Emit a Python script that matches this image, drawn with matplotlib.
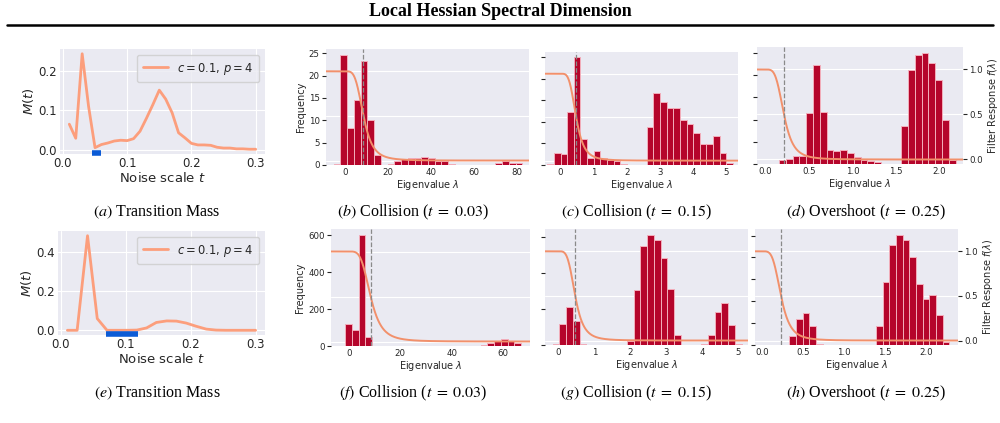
import numpy as np
import matplotlib
matplotlib.use('Agg')
import matplotlib.pyplot as plt
import matplotlib.transforms as mtransforms
from matplotlib.lines import Line2D
from matplotlib.ticker import MultipleLocator

plt.style.use('seaborn-v0_8-darkgrid')
plt.rcParams['font.family'] = ['DejaVu Sans']

W, H = 1000, 423

# transition mass M(t), top and bottom rows
t_top = [0.01, 0.02, 0.03, 0.04, 0.05, 0.06, 0.07, 0.08, 0.09, 0.10,
         0.11, 0.12, 0.13, 0.14, 0.15, 0.16, 0.17, 0.18, 0.19, 0.20,
         0.21, 0.22, 0.23, 0.24, 0.25, 0.26, 0.27, 0.28, 0.29, 0.30]
mass_top = [0.065, 0.029, 0.245, 0.11, 0.005, 0.013, 0.017, 0.022, 0.024, 0.023,
            0.028, 0.047, 0.08, 0.115, 0.152, 0.129, 0.094, 0.043, 0.03, 0.016,
            0.012, 0.012, 0.011, 0.006, 0.004, 0.004, 0.002, 0.002, 0.001, 0.001]
window_top = [0.045, 0.059]

t_bottom = [0.010, 0.025, 0.041, 0.056, 0.071, 0.086, 0.102, 0.117, 0.132, 0.147,
            0.163, 0.178, 0.193, 0.208, 0.224, 0.239, 0.254, 0.269, 0.285, 0.300]
mass_bottom = [0.0, 0.0, 0.485, 0.06, 0.0, 0.0, 0.0, 0.001, 0.012, 0.04,
               0.048, 0.047, 0.037, 0.021, 0.006, 0.001, 0.0, 0.0, 0.0, 0.0]
window_bottom = [0.070, 0.119]

filter_p = 4

# eigenvalue histograms: first bin edge, bin width, counts, filter cutoff
hist_b_start, hist_b_width, cut_b = -5.23, 3.125, 8.6
hist_b = [0.3, 24.7, 8.2, 14.6, 23.2, 10.0, 2.3, 0, 0.2, 0.8, 1.3, 1.6, 1.5, 1.8,
          1.6, 1.0, 1.0, 0.3, 0, 0, 0.1, 0, 0, 0, 0.4, 0.9, 0.5, 0.4]

hist_c_start, hist_c_width, cut_c = -0.4, 0.2, 0.47
hist_c = [0.5, 5.4, 5.1, 24.8, 50.0, 12.2, 3.2, 6.3, 3.2, 2.2, 1.7, 0.3, 0, 0,
          0, 17.7, 33.5, 29.2, 26.6, 26.6, 21.1, 19.2, 14.8, 9.8, 9.8, 13.7, 5.8, 0.9]

hist_d_start, hist_d_width, cut_d = 0.157, 0.078, 0.214
hist_d = [2.0, 2.4, 3.5, 3.8, 23.2, 44.4, 23.6, 6.5, 5.8, 6.1, 5.0, 3.0, 1.7,
          1.2, 0.8, 0, 0, 0, 17.1, 42.4, 48.9, 50.2, 45.3, 37.7, 19.7, 1.7]

hist_f_start, hist_f_width, cut_f = -1.4, 2.63, 8.5
hist_f = [118, 89, 604, 47, 0, 0, 0, 0, 0, 0, 0, 0, 0, 0, 0, 0, 0, 0, 0, 0,
          3, 15, 29, 40, 29, 15]

hist_g_start, hist_g_width, cut_g = -0.16, 0.1875, 0.47
hist_g = [2, 58, 107, 67, 2, 0, 0, 0, 0, 0, 0, 11, 154, 276, 308, 294, 243, 156,
          28, 0, 0, 0, 2, 28, 92, 117, 56, 2]

hist_h_start, hist_h_width, cut_h = 0.33, 0.0815, 0.228
hist_h = [4.2, 11.8, 14.6, 8.9, 0.3, 0, 0, 0, 0, 0, 0, 0, 0, 8.8, 28.9, 45.5,
          50.5, 48.2, 40.0, 28.0, 21.2, 22.8, 13.8, 1.5]

LINE = '#fc9e7c'
CURVE = '#f2906b'
BAR = '#b5052b'
EDGE = '#f3aebb'
BLUE = '#0b5bd6'
TXT = '.15'


def rect(l, r, t, b):
    return [l / W, 1 - b / H, (r - l) / W, (b - t) / H]


fig = plt.figure(figsize=(W / 100, H / 100), dpi=100)


def mass_panel(box, t, m, window):
    ax = fig.add_axes(box)
    ax.plot(t, m, color=LINE, lw=2, label='$c = 0.1$, $p = 4$')
    trans = mtransforms.blended_transform_factory(ax.transData, ax.transAxes)
    ax.plot(window, [0.01, 0.01], color=BLUE, lw=4, solid_capstyle='butt',
            transform=trans, clip_on=False, zorder=5)
    ax.set_xticks([0.0, 0.1, 0.2, 0.3])
    ax.set_xlabel('Noise scale $t$', fontsize=9.5, labelpad=1, color=TXT)
    ax.set_ylabel('$M(t)$', fontsize=9.5, labelpad=2, color=TXT)
    ax.tick_params(labelsize=8.5, length=0, pad=2, colors=TXT)
    ax.legend(loc='upper right', fontsize=8.3, frameon=True, handlelength=2.2,
              borderpad=0.5)
    return ax


def hist_panel(box, start, width, counts, cut, xlim, xstep, ystep,
               left_labels=False, right_labels=False):
    ax_f = fig.add_axes(box)
    ax_f.set_ylim(-0.05, 1.25)
    ax_f.set_yticks([0.0, 0.5, 1.0])
    ax_f.yaxis.tick_right()
    ax_f.grid(False, axis='x')
    ax_f.tick_params(axis='x', labelbottom=False, length=0)
    if right_labels:
        ax_f.tick_params(axis='y', labelright=True, length=3, width=0.8,
                         labelsize=6.2, pad=1.5, colors=TXT)
        ax_f.yaxis.set_label_position('right')
        ax_f.set_ylabel(r'Filter Response $f(\lambda)$', fontsize=7,
                        labelpad=2, color=TXT)
    else:
        ax_f.tick_params(axis='y', labelright=False, length=0)

    ax_h = fig.add_axes(box, sharex=ax_f)
    ax_h.patch.set_visible(False)
    ax_h.grid(False)
    edges = start + width * np.arange(len(counts))
    ax_h.bar(edges, counts, width=width, align='edge', color=BAR,
             edgecolor=EDGE, linewidth=0.7)
    lam = np.linspace(xlim[0], xlim[1], 500)
    resp = 1.0 / (1.0 + (np.clip(lam, 0, None) / cut) ** filter_p)
    ax_h.plot(lam, resp, color=CURVE, lw=1.4, transform=ax_f.transData,
              scalex=False, scaley=False, zorder=3)
    ax_h.axvline(cut, color='#8a8a8a', ls='--', lw=0.9, zorder=4)
    ax_h.set_xlim(xlim)
    ax_h.xaxis.set_major_locator(MultipleLocator(xstep))
    ax_h.yaxis.set_major_locator(MultipleLocator(ystep))
    ax_h.yaxis.tick_left()
    ax_h.tick_params(axis='y', length=3, width=0.8, labelleft=left_labels,
                     labelsize=6.2, pad=1.5, colors=TXT)
    ax_h.tick_params(axis='x', length=0, labelsize=6.2, pad=2, colors=TXT)
    ax_h.set_xlabel(r'Eigenvalue $\lambda$', fontsize=7, labelpad=1, color=TXT)
    if left_labels:
        ax_h.set_ylabel('Frequency', fontsize=7, labelpad=2, color=TXT)
    return ax_f, ax_h


# top row
mass_panel(rect(60, 265, 49, 154), t_top, mass_top, window_top)
fig.axes[-1].set_yticks([0.0, 0.1, 0.2])
hist_panel(rect(326, 529, 49, 165), hist_b_start, hist_b_width, hist_b, cut_b,
           (-8.8, 85.4), 20, 5, left_labels=True)
hist_panel(rect(545, 738, 52, 165), hist_c_start, hist_c_width, hist_c, cut_c,
           (-0.47, 5.35), 1, 10)
hist_panel(rect(757, 963, 47, 164), hist_d_start, hist_d_width, hist_d, cut_d,
           (-0.096, 2.27), 0.5, 10, right_labels=True)

# bottom row
mass_panel(rect(58, 265, 231, 335), t_bottom, mass_bottom, window_bottom)
fig.axes[-1].set_yticks([0.0, 0.2, 0.4])
hist_panel(rect(331, 530, 229, 346), hist_f_start, hist_f_width, hist_f, cut_f,
           (-6.9, 70.4), 20, 200, left_labels=True)
hist_panel(rect(545, 748, 229, 345), hist_g_start, hist_g_width, hist_g, cut_g,
           (-0.37, 5.27), 1, 100)
hist_panel(rect(755, 958, 229, 345), hist_h_start, hist_h_width, hist_h, cut_h,
           (-0.09, 2.39), 0.5, 10, right_labels=True)

# title and captions
serif = dict(family='Liberation Serif', math_fontfamily='stix', color='black')
fig.text(0.5, 1 - 12 / H, 'Local Hessian Spectral Dimension', ha='center',
         va='center', fontsize=13, fontweight='bold', **serif)
fig.add_artist(Line2D([7 / W, 993 / W], [1 - 25 / H] * 2, color='black', lw=1.8))

captions_top = [r'$\mathit{(a)}$ Transition Mass',
                r'$\mathit{(b)}$ Collision ($t\;=\;0.03$)',
                r'$\mathit{(c)}$ Collision ($t\;=\;0.15$)',
                r'$\mathit{(d)}$ Overshoot ($t\;=\;0.25$)']
captions_bottom = [r'$\mathit{(e)}$ Transition Mass',
                   r'$\mathit{(f)}$ Collision ($t\;=\;0.03$)',
                   r'$\mathit{(g)}$ Collision ($t\;=\;0.15$)',
                   r'$\mathit{(h)}$ Overshoot ($t\;=\;0.25$)']
caption_x = [157, 413, 636, 866]
for x, cap in zip(caption_x, captions_top):
    fig.text(x / W, 1 - 212 / H, cap, ha='center', va='center', fontsize=11.5, **serif)
for x, cap in zip(caption_x, captions_bottom):
    fig.text(x / W, 1 - 393 / H, cap, ha='center', va='center', fontsize=11.5, **serif)

fig.savefig('out.png', dpi=100)
